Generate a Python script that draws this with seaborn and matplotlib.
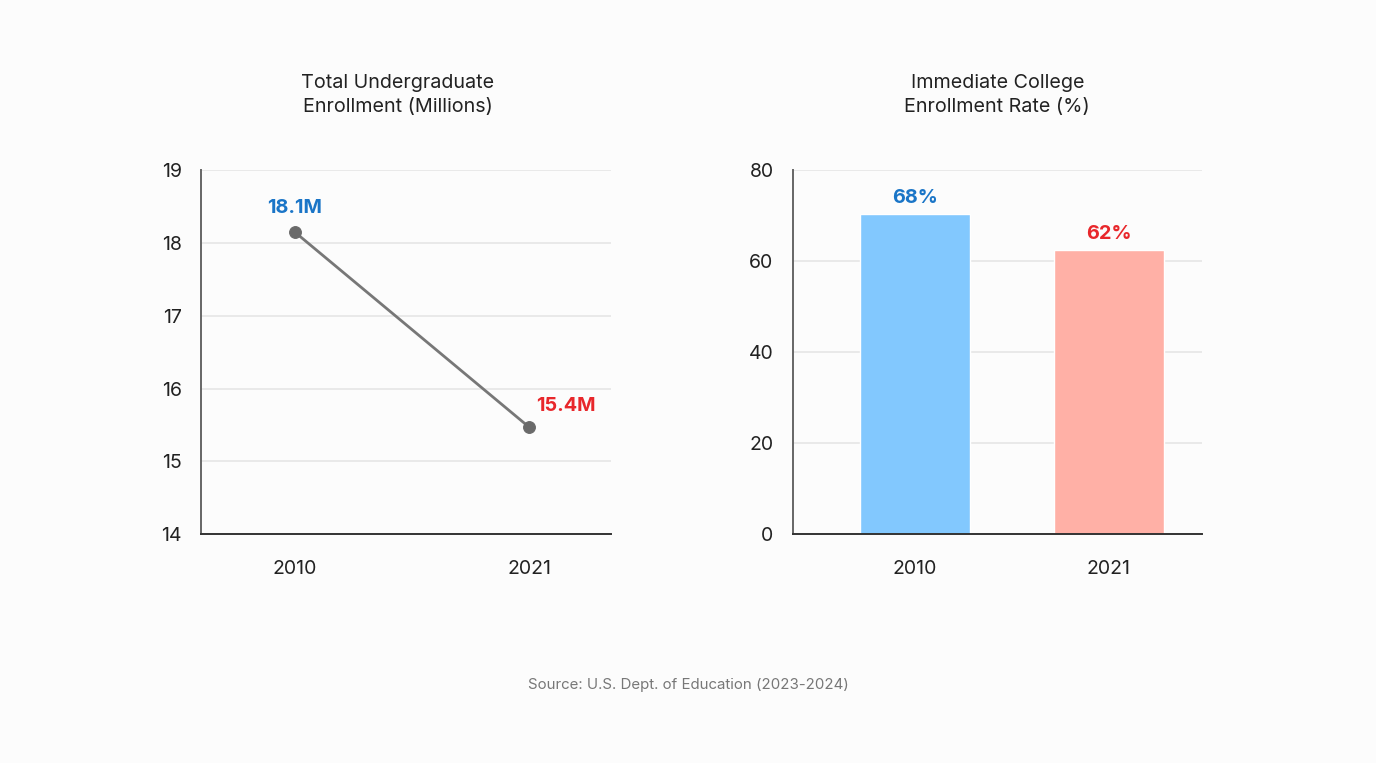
import matplotlib
matplotlib.use('Agg')
import matplotlib.pyplot as plt
import seaborn as sns
import pandas as pd

# data
years = ['2010', '2021']
enrollment = [18.15, 15.47]          # millions
enroll_labels = ['18.1M', '15.4M']
rate = [70.3, 62.4]                  # percent, bar heights
rate_labels = ['68%', '62%']
source = 'Source: U.S. Dept. of Education (2023-2024)'

blue_txt = '#1a75c7'
red_txt = '#e8272b'
bar_cols = ['#82c8fe', '#ffb0a6']
bg = '#fcfcfc'

sns.set_style('white')
plt.rcParams['font.family'] = ['Inter', 'DejaVu Sans']
plt.rcParams['text.color'] = '#222222'

fig = plt.figure(figsize=(13.76, 7.63), dpi=100, facecolor=bg)
ax1 = fig.add_axes([0.1461, 0.300, 0.298, 0.477])
ax2 = fig.add_axes([0.5763, 0.300, 0.297, 0.477])

def style(ax):
    ax.set_facecolor(bg)
    for s in ['top', 'right']:
        ax.spines[s].set_visible(False)
    ax.spines['left'].set_color('#666666')
    ax.spines['left'].set_linewidth(1.4)
    ax.spines['bottom'].set_color('#333333')
    ax.spines['bottom'].set_linewidth(1.4)
    ax.grid(axis='y', color='#e4e4e4', linewidth=1.1)
    ax.set_axisbelow(True)
    ax.tick_params(axis='both', length=0, labelsize=14, colors='#222222')
    ax.tick_params(axis='y', pad=14)
    ax.tick_params(axis='x', pad=19)
    ax.set_xlabel('')
    ax.set_ylabel('')

# left: line chart
df1 = pd.DataFrame({'year': [0, 1], 'value': enrollment})
sns.lineplot(data=df1, x='year', y='value', ax=ax1, color='#777777',
             linewidth=2.0, marker='o', markersize=8.5,
             markerfacecolor='#6a6a6a', markeredgecolor='#6a6a6a')
ax1.set_xlim(-0.4, 1.35)
ax1.set_ylim(14, 19)
ax1.set_yticks([14, 15, 16, 17, 18, 19])
ax1.set_xticks([0, 1])
ax1.set_xticklabels(years)
style(ax1)
ax1.annotate(enroll_labels[0], (0, enrollment[0]), xytext=(0, 17),
             textcoords='offset points', ha='center', va='center',
             fontsize=14.3, fontweight='bold', color=blue_txt)
ax1.annotate(enroll_labels[1], (1, enrollment[1]), xytext=(5, 15),
             textcoords='offset points', ha='left', va='center',
             fontsize=14.3, fontweight='bold', color=red_txt)
ax1.set_title('Total Undergraduate\nEnrollment (Millions)', fontsize=14.2,
              pad=42, linespacing=1.45, x=0.48)

# right: bar chart
df2 = pd.DataFrame({'year': years, 'rate': rate})
sns.barplot(data=df2, x='year', y='rate', hue='year', palette=bar_cols,
            ax=ax2, width=0.567, legend=False, saturation=1)
ax2.set_xlim(-0.629, 1.479)
ax2.set_ylim(0, 80)
ax2.set_yticks([0, 20, 40, 60, 80])
style(ax2)
for i, (v, lab) in enumerate(zip(rate, rate_labels)):
    ax2.annotate(lab, (i, v), xytext=(0, 12), textcoords='offset points',
                 ha='center', va='center', fontsize=14.3, fontweight='bold',
                 color=[blue_txt, red_txt][i])
ax2.set_title('Immediate College\nEnrollment Rate (%)', fontsize=14.2,
              pad=42, linespacing=1.45)

fig.text(0.5, 0.102, source, ha='center', va='center', fontsize=10.8,
         color='#777777')

fig.savefig('out.png', dpi=100, facecolor=bg)
